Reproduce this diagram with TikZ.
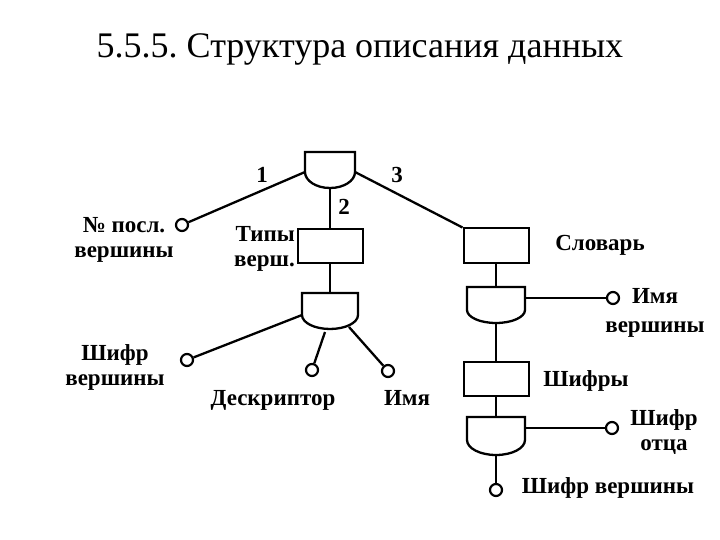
\documentclass[tikz,border=0pt]{standalone}
\usepackage{fontspec}
\setmainfont{Liberation Serif}
\frenchspacing
\begin{document}
\begin{tikzpicture}[x=1pt,y=-1pt,
  ln/.style={line width=2.3pt,black},
  term/.style={circle,draw,line width=2.2pt,fill=white,minimum size=12pt,inner sep=0pt},
  bx/.style={draw,line width=2pt,minimum width=65pt,minimum height=34pt,inner sep=0pt},
  lbl/.style={font=\fontsize{23}{25}\selectfont\bfseries,align=center,inner sep=0pt}]
\useasboundingbox (0,0) rectangle (720,540);
\newcommand\drawgate[6]{% name, cx, top, halfwidth, side, depth
  \draw[ln] (#2-#4,#3+#5) -- (#2-#4,#3) -- (#2+#4,#3) -- (#2+#4,#3+#5)
     arc[start angle=0,end angle=180,x radius=#4,y radius=#6];
  \coordinate (#1-t) at (#2,#3);
  \coordinate (#1-l) at (#2-#4,#3+#5);
  \coordinate (#1-r) at (#2+#4,#3+#5);
  \coordinate (#1-b) at (#2,#3+#5+#6);
}
% title
\node[font=\fontsize{36}{42}\selectfont,inner sep=0pt] (title) at (360,49) {5.5.5. Структура описания данных};
% gates
\drawgate{g1}{330}{152}{25}{20}{16}
\drawgate{g2}{330}{293}{28}{22}{14}
\drawgate{g3}{496}{287}{29}{23}{13}
\drawgate{g4}{496}{417}{29}{23}{15}
% boxes
\node[bx] (types) at (330,246) {};
\node[bx] (dict) at (496,245.5) {};
\node[bx] (codes) at (496,378.5) {};
% terminals
\node[term] (c1) at (182,225) {};
\node[term] (c2) at (187,360) {};
\node[term] (c3) at (312,370) {};
\node[term] (c4) at (388,371) {};
\node[term] (c5) at (613,298) {};
\node[term] (c6) at (612,428) {};
\node[term] (c7) at (496,490) {};
% connectors
\coordinate (g2-m) at (325,332);
\coordinate (g2-rr) at (349,327);
\draw[ln] (g1-l) -- (c1);
\draw[ln] (g1-r) -- (dict.north west);
\draw[ln] (g1-b) -- (types.north);
\draw[ln] (types.south) -- (g2-t);
\draw[ln] (g2-l) -- (c2);
\draw[ln] (g2-m) -- (c3);
\draw[ln] (g2-rr) -- (c4);
\draw[ln] (dict.south) -- (g3-t);
\draw[ln] (g3-b) -- (codes.north);
\draw[ln] (codes.south) -- (g4-t);
\draw[ln] (g3-r |- c5) -- (c5);
\draw[ln] (g4-r |- c6) -- (c6);
\draw[ln] (g4-b) -- (c7);
% labels
\node[lbl] (n1) at (262,175) {1};
\node[lbl] (n3) at (397,175) {3};
\node[lbl] (n2) at (344,207) {2};
\node[lbl] (lpos) at (124,240) {№ посл.\\вершины};
\node[lbl,align=right,anchor=east] (ltypes) at (295,249) {Типы\\верш.};
\node[lbl] (lcode) at (115,367) {Шифр\\вершины};
\node[lbl] (ldesc) at (273,400) {Дескриптор};
\node[lbl] (lname) at (407,398) {Имя};
\node[lbl] (ldict) at (600,245) {Словарь};
\node[lbl,font=\fontsize{23}{29}\selectfont\bfseries] (lvname) at (655,313) {Имя\\вершины};
\node[lbl] (lcodes) at (586,381) {Шифры};
\node[lbl] (lfather) at (664,432) {Шифр\\отца};
\node[lbl] (lvcode) at (608,488) {Шифр вершины};
\end{tikzpicture}
\end{document}
